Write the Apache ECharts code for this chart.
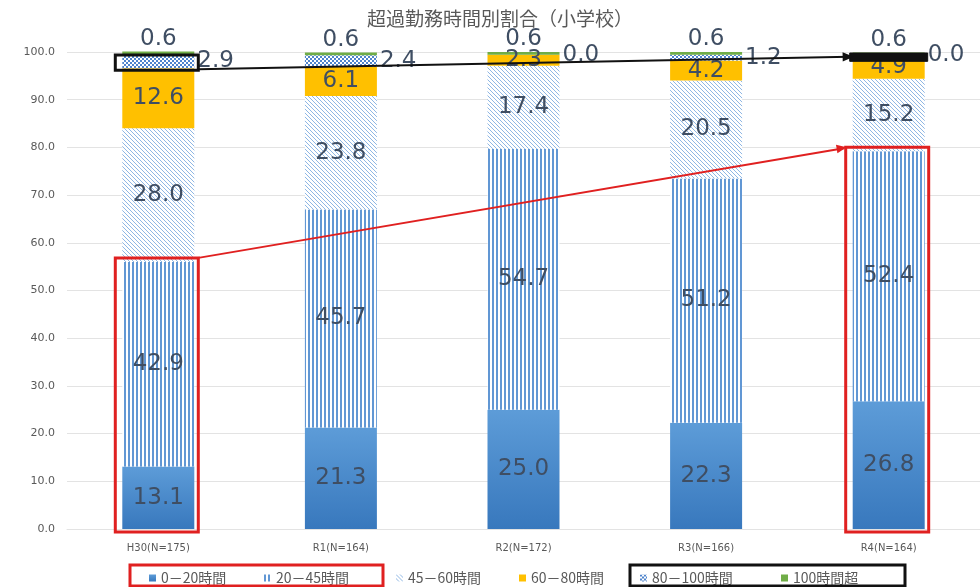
<!DOCTYPE html>
<html><head><meta charset="utf-8">
<script src="https://cdn.jsdelivr.net/npm/echarts@6/dist/echarts.min.js"></script>
<style>html,body{margin:0;padding:0;background:#fff}#c{width:980px;height:587px}</style>
</head><body><div id="c"></div>
<script>
const categories = ['H30(N=175)','R1(N=164)','R2(N=172)','R3(N=166)','R4(N=164)'];
const seriesNames = ['0－20時間','20－45時間','45－60時間','60－80時間','80－100時間','100時間超'];
const h0_20   = [13.1, 21.3, 25.0, 22.3, 26.8];
const h20_45  = [42.9, 45.7, 54.7, 51.2, 52.4];
const h45_60  = [28.0, 23.8, 17.4, 20.5, 15.2];
const h60_80  = [12.6, 6.1, 2.3, 4.2, 4.9];
const h80_100 = [2.9, 2.4, 0.0, 1.2, 0.0];
const h100p   = [0.6, 0.6, 0.6, 0.6, 0.6];
const titleText = '超過勤務時間別割合（小学校）';

function pat(w,h,draw){const c=document.createElement('canvas');c.width=w;c.height=h;const x=c.getContext('2d');draw(x);return {image:c,repeat:'repeat'};}
const vStripe = pat(4,4,x=>{x.fillStyle='#ffffff';x.fillRect(0,0,4,4);x.fillStyle='#6197d4';x.fillRect(0,0,2,4);});
const diag = pat(4,4,x=>{x.fillStyle='#ffffff';x.fillRect(0,0,4,4);x.fillStyle='#8fb7e4';for(let i=0;i<4;i++)x.fillRect(i,i,1,1);});
const checker = pat(4,4,x=>{x.fillStyle='#ffffff';x.fillRect(0,0,4,4);x.fillStyle='#4f84cc';x.fillRect(0,0,2,2);x.fillRect(2,2,2,2);});
const solidGrad = {type:'linear',x:0,y:0,x2:0,y2:1,colorStops:[{offset:0,color:'#5d9cd8'},{offset:1,color:'#3878bd'}]};

const labelBase = {show:true,color:'#3F4E63',fontSize:23,fontFamily:'DejaVu Sans',formatter:p=>Number(p.value).toFixed(1)};
const BW = 72;
function mk(name,data,color,labelExtra){
  return {name:name,type:'bar',stack:'s',barWidth:BW,data:data,clip:false,
    itemStyle:{color:color},label:Object.assign({},labelBase,{position:'inside'},labelExtra||{}),emphasis:{disabled:true}};
}
const series = [
  mk(seriesNames[0],h0_20,solidGrad),
  mk(seriesNames[1],h20_45,vStripe),
  mk(seriesNames[2],h45_60,diag),
  mk(seriesNames[3],h60_80,'#FFC000'),
  mk(seriesNames[4],h80_100,checker,{position:'right',distance:3}),
  mk(seriesNames[5],h100p,'#70AD47',{position:'top',distance:1})
];
const legendLefts = [144,259,391,514,635,776];
const legends = seriesNames.map((n,i)=>({data:[n],left:legendLefts[i],top:566,icon:'rect',itemWidth:7,itemHeight:7,itemGap:0,
  textStyle:{color:'#595959',fontSize:14,fontFamily:'Noto Sans CJK JP'},selectedMode:false}));

const chart = echarts.init(document.getElementById('c'),null,{renderer:'canvas'});
chart.setOption({
  animation:false,
  title:{text:titleText,left:362,top:4,textStyle:{color:'#595959',fontSize:19,fontWeight:'normal',fontFamily:'Noto Sans CJK JP'}},
  legend:legends,
  grid:{left:67,width:926,top:52,bottom:58,containLabel:false},
  xAxis:{type:'category',data:categories,axisLine:{lineStyle:{color:'#e3e3e3'}},axisTick:{show:false},
    axisLabel:{color:'#595959',fontSize:10,fontFamily:'DejaVu Sans',margin:14}},
  yAxis:{type:'value',min:0,max:100,interval:10,axisLine:{show:false},axisTick:{show:false},
    splitLine:{lineStyle:{color:'#e3e3e3'}},
    axisLabel:{color:'#595959',fontSize:11,fontFamily:'DejaVu Sans',margin:12,formatter:v=>v.toFixed(1)}},
  series:series
});

// annotations computed from the data through the chart's own scales
function px(i,v){return chart.convertToPixel({gridIndex:0},[i,v]);}
const last = categories.length-1;
const g = [];
const red = '#E02020';
function arrowHead(x1,y1,x2,y2,size,color){
  const a=Math.atan2(y2-y1,x2-x1);
  return {type:'polygon',z:100,shape:{points:[[x2,y2],[x2-size*Math.cos(a-0.4),y2-size*Math.sin(a-0.4)],[x2-size*Math.cos(a+0.4),y2-size*Math.sin(a+0.4)]]},style:{fill:color}};
}
// red boxes around 0-45h
const rb = [0,last].map(i=>{
  const top = px(i,h0_20[i]+h20_45[i]); const bot = px(i,0);
  const l = top[0]-BW/2-7, r = top[0]+BW/2+4;
  g.push({type:'rect',z:100,shape:{x:l,y:top[1]-4,width:r-l,height:bot[1]+3-(top[1]-4)},style:{fill:'none',stroke:red,lineWidth:3}});
  return {l:l,r:r,t:top[1]-4};
});
g.push({type:'line',z:100,shape:{x1:rb[0].r,y1:rb[0].t,x2:rb[1].l-2,y2:rb[1].t+1},style:{stroke:red,lineWidth:2}});
g.push(arrowHead(rb[0].r,rb[0].t,rb[1].l+1,rb[1].t,11,red));
// black boxes around 80h+
const s4 = i=>h0_20[i]+h20_45[i]+h45_60[i]+h60_80[i];
const b0top = px(0,100), b0bot = px(0,s4(0));
const bl0 = b0top[0]-BW/2-7, br0 = b0top[0]+BW/2+4;
g.push({type:'rect',z:100,shape:{x:bl0,y:b0top[1]+3,width:br0-bl0,height:b0bot[1]+2-(b0top[1]+3)},style:{fill:'none',stroke:'#111',lineWidth:3}});
const b1top = px(last,100), b1bot = px(last,s4(last));
const bl1 = b1top[0]-BW/2-3, br1 = b1top[0]+BW/2+3;
g.push({type:'rect',z:100,shape:{x:bl1,y:b1top[1]+1,width:br1-bl1,height:b1bot[1]+6-(b1top[1]+1)},style:{fill:'#111',stroke:'#111',lineWidth:1}});
const y0 = b0bot[1]+1, y1 = (b1top[1]+b1bot[1])/2+3;
g.push({type:'line',z:100,shape:{x1:br0,y1:y0,x2:bl1,y2:y1},style:{stroke:'#111',lineWidth:2}});
g.push(arrowHead(br0,y0,bl1+4,y1,12,'#111'));
// legend group boxes
g.push({type:'rect',z:100,shape:{x:130,y:565,width:253,height:21},style:{fill:'none',stroke:red,lineWidth:3}});
g.push({type:'rect',z:100,shape:{x:630,y:565,width:275,height:21},style:{fill:'none',stroke:'#111',lineWidth:3}});
chart.setOption({graphic:g});
</script></body></html>
